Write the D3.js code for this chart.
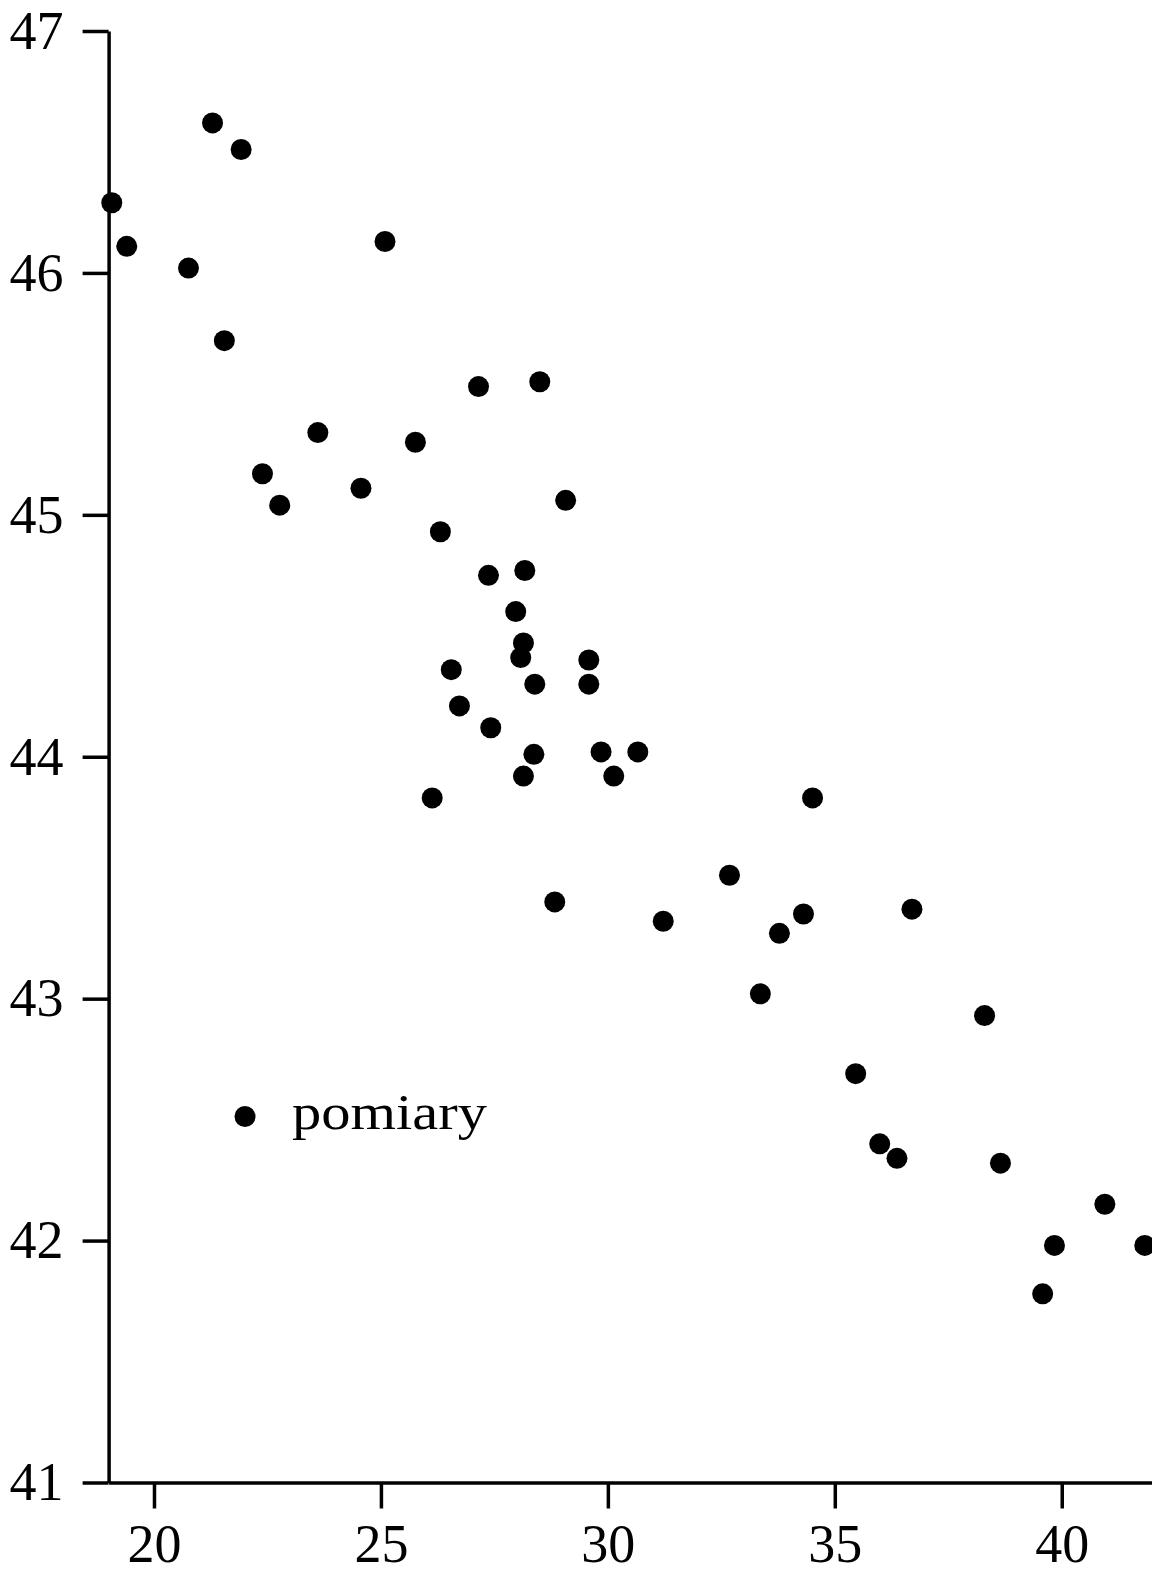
<!DOCTYPE html>
<html>
<head>
<meta charset="utf-8">
<script src="https://cdn.jsdelivr.net/npm/d3@7"></script>
<style>
  html, body { margin: 0; padding: 0; background: #fff; }
  svg { display: block; }
  text { font-family: "Liberation Serif", "DejaVu Serif", serif; fill: #000; }
</style>
</head>
<body>
<svg width="1152" height="1573"></svg>
<script>
// measured points (x, y)
const xs = [19.07, 19.40, 21.29, 21.92, 20.76, 21.55, 25.09, 22.39, 22.77, 23.61,
            24.56, 25.76, 27.15, 28.50, 29.07, 26.31, 27.37, 28.17, 27.97, 28.14,
            28.08, 28.39, 26.55, 26.73, 27.42, 29.58, 29.58, 28.37, 28.14, 29.85,
            30.13, 30.66, 26.13, 28.83, 31.22, 32.68, 34.51, 33.78, 34.31, 36.70,
            33.36, 38.30, 35.46, 35.99, 36.37, 38.65, 40.95, 39.84, 41.83, 39.58];
const ys = [46.29, 46.11, 46.62, 46.51, 46.02, 45.72, 46.13, 45.17, 45.04, 45.34,
            45.11, 45.30, 45.53, 45.55, 45.06, 44.93, 44.75, 44.77, 44.60, 44.47,
            44.41, 44.30, 44.36, 44.21, 44.12, 44.40, 44.30, 44.01, 43.92, 44.02,
            43.92, 44.02, 43.83, 43.40, 43.32, 43.51, 43.83, 43.27, 43.35, 43.37,
            43.02, 42.93, 42.69, 42.40, 42.34, 42.32, 42.15, 41.98, 41.98, 41.78];
const xTicks = [20, 25, 30, 35, 40];
const yTicks = [41, 42, 43, 44, 45, 46, 47];
const legendLabel = "pomiary";

const svg = d3.select("svg");
const fontSize = 54;

const x = d3.scaleLinear().domain([19, 42]).range([108.6, 1152.5]);
const y = d3.scaleLinear().domain([41, 47]).range([1482.5, 31]);

// axes
const gx = svg.append("g")
    .attr("transform", `translate(0,${y(41)})`)
    .call(d3.axisBottom(x).tickValues(xTicks).tickFormat(d3.format("d"))
        .tickSize(26).tickSizeOuter(0).tickPadding(15));
const gy = svg.append("g")
    .attr("transform", `translate(${x(19)},0)`)
    .call(d3.axisLeft(y).tickValues(yTicks).tickFormat(d3.format("d"))
        .tickSize(26).tickSizeOuter(0).tickPadding(19));

[gx, gy].forEach(g => {
    g.attr("font-family", null).attr("font-size", null);
    g.selectAll("path, line").attr("stroke", "#000").attr("stroke-width", 3.5);
    g.selectAll("text").attr("font-size", fontSize).attr("fill", "#000");
});

// points
svg.append("g")
    .selectAll("circle")
    .data(xs.map((d, i) => [d, ys[i]]))
    .enter()
    .append("circle")
    .attr("cx", d => x(d[0]))
    .attr("cy", d => y(d[1]))
    .attr("r", 10.5)
    .attr("fill", "#000");

// legend
const legend = svg.append("g").attr("transform", "translate(245,1116.5)");
legend.append("circle").attr("r", 10.5).attr("fill", "#000");
legend.append("text")
    .attr("x", 47)
    .attr("y", 12)
    .attr("font-size", 50)
    .attr("textLength", 195)
    .attr("lengthAdjust", "spacingAndGlyphs")
    .text(legendLabel);
</script>
</body>
</html>
